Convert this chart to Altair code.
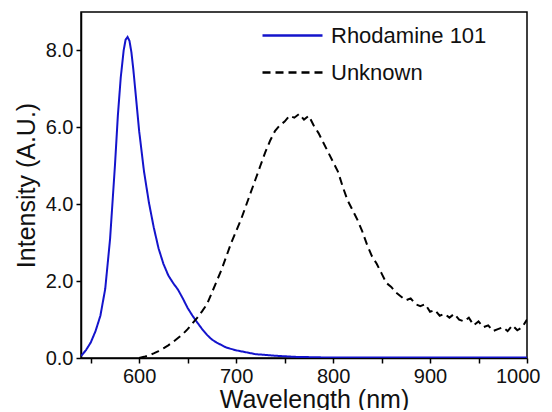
import altair as alt
import pandas as pd

rh_wl = [540, 545, 550, 555, 560, 565, 570, 575, 578, 581, 584, 586, 588, 590, 592, 594, 597,
         600, 605, 610, 615, 620, 625, 630, 635, 640, 645, 650, 655, 660, 665, 670,
         675, 680, 690, 700, 710, 720, 740, 760, 780, 800, 850, 900, 950, 1000]
rh_int = [0.05, 0.2, 0.4, 0.7, 1.1, 1.8, 3.1, 5.0, 6.3, 7.3, 8.0, 8.28, 8.35, 8.25, 7.95, 7.5, 6.7,
          5.9, 4.85, 4.05, 3.4, 2.85, 2.45, 2.15, 1.95, 1.78, 1.55, 1.3, 1.1, 0.92, 0.75, 0.6,
          0.48, 0.4, 0.27, 0.2, 0.15, 0.1, 0.06, 0.03, 0.02, 0.01, 0.01, 0.01, 0.01, 0.01]

un_wl = list(range(600, 1001, 5))
un_int = [0.0, 0.03, 0.07, 0.12, 0.18, 0.25, 0.33, 0.42, 0.52, 0.62,
          0.75, 0.9, 1.05, 1.22, 1.4, 1.7, 2.0, 2.3, 2.65, 3.0,
          3.3, 3.6, 3.95, 4.3, 4.65, 5.0, 5.35, 5.65, 5.9, 6.05,
          6.15, 6.3, 6.25, 6.35, 6.2, 6.3, 6.05, 5.85, 5.6, 5.35,
          5.1, 4.85, 4.45, 4.1, 3.85, 3.6, 3.3, 2.95, 2.65, 2.45,
          2.2, 1.95, 1.85, 1.7, 1.6, 1.5, 1.55, 1.4, 1.35, 1.4,
          1.2, 1.25, 1.1, 1.15, 1.05, 1.15, 1.0, 0.95, 1.05, 0.85,
          0.95, 0.8, 0.85, 0.7, 0.75, 0.8, 0.7, 0.85, 0.72, 0.8, 1.0]

series = ["Rhodamine 101", "Unknown"]

df = pd.concat([
    pd.DataFrame({"wl": rh_wl, "I": rh_int, "s": series[0]}),
    pd.DataFrame({"wl": un_wl, "I": un_int, "s": series[1]}),
])

FONT = "Liberation Sans"

leg = dict(title=None, orient="none", legendX=180, legendY=7,
           symbolType="M-1,0L3,0", symbolSize=900,
           symbolStrokeWidth=2.5, labelFontSize=22,
           labelFont=FONT, labelColor="#111111",
           rowPadding=9, labelOffset=37)

chart = alt.Chart(df).mark_line(strokeWidth=2, clip=True).encode(
    x=alt.X("wl:Q", scale=alt.Scale(domain=[540, 1000], nice=False, zero=False),
            axis=alt.Axis(title="Wavelength (nm)", values=list(range(550, 1001, 50)),
                          labelExpr="datum.value % 100 == 0 ? format(datum.value, 'd') : ''",
                          labelOverlap=False, labelFlush=True, labelFlushOffset=13,
                          grid=False, titleX=233)),
    y=alt.Y("I:Q", scale=alt.Scale(domain=[0, 9], nice=False),
            axis=alt.Axis(title="Intensity (A.U.)", values=[0, 2, 4, 6, 8], format=".1f",
                          grid=False)),
    color=alt.Color("s:N", scale=alt.Scale(domain=series, range=["#1414cc", "#000000"]),
                    legend=alt.Legend(**leg)),
    strokeDash=alt.StrokeDash("s:N", scale=alt.Scale(domain=series, range=[[1, 0], [8, 5]]),
                              legend=alt.Legend(**leg)),
).properties(
    width=446, height=346,
    autosize=alt.AutoSizeParams(type="none"),
    padding={"left": 73, "top": 4, "right": 17, "bottom": 52},
).configure_view(
    stroke="black", strokeWidth=1.5
).configure_axis(
    domainColor="black", domainWidth=1.5, tickColor="black", tickWidth=1.5, tickSize=5,
    labelFont=FONT, labelFontSize=20, labelColor="#111111", labelPadding=3,
    titleFont=FONT, titleFontSize=25, titleFontWeight="normal", titleColor="#111111",
).configure_axisX(titlePadding=1).configure_axisY(titlePadding=6)

chart.save("out.html", embed_options={"renderer": "svg", "actions": False})
